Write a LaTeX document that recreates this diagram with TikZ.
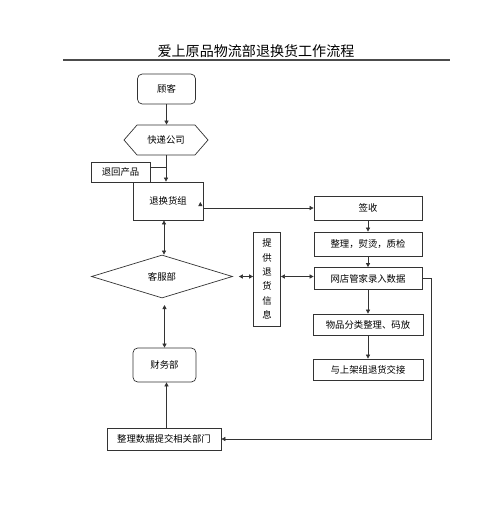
\documentclass[tikz,border=0pt]{standalone}
\usepackage{fontspec}
\newfontfamily\cjk{Noto Sans CJK SC}
\usetikzlibrary{positioning, shapes.geometric, shapes.symbols, arrows.meta}

\begin{document}
\begin{tikzpicture}[
    x=0.03cm, y=-0.03cm,
    on grid,
    font=\cjk\fontsize{8}{10}\selectfont,
    every node/.style={inner sep=1pt},
    box/.style={draw=black!80, line width=0.6pt, minimum width=3.24cm, minimum height=0.72cm},
    rbox/.style={box, rounded corners=4pt},
    arr/.style={draw=black!80, line width=0.6pt, -{Triangle[length=3.5pt, width=3.5pt]}},
    darr/.style={draw=black!80, line width=0.6pt, {Triangle[length=3.5pt, width=3.5pt]}-{Triangle[length=3.5pt, width=3.5pt]}}
]
   \useasboundingbox (0,0) rectangle (500,530);

   % Title
   \node (title) at (256,51) {\fontsize{12}{14}\selectfont 爱上原品物流部退换货工作流程};
   \coordinate (ruleL) at (63,60);
   \coordinate (ruleR) at (450,60);
   \draw[black!70, line width=1pt] (ruleL) -- (ruleR);

   % Left column
   \node[rbox, minimum width=1.74cm, minimum height=0.9cm] (gk) at (166.5,89) {顾客};
   \node[draw=black!80, line width=0.6pt, shape=signal, signal to=east and west, signal pointer angle=98,
         minimum width=2.52cm, minimum height=0.9cm, inner sep=0pt] (kd) at (166,140) {快递公司};
   \node[box, minimum width=1.77cm, minimum height=0.6cm] (th) at (120.5,172) {退回产品};
   \node[box, minimum width=2.1cm, minimum height=1.14cm] (thz) at (168,201) {退换货组};
   \node[draw=black!80, line width=0.6pt, diamond, aspect=3.3, minimum width=4.23cm, minimum height=1.29cm,
         inner sep=0pt] (kf) at (162,276.5) {客服部};
   \node[rbox, minimum width=1.89cm, minimum height=1.02cm] (cw) at (164.5,365) {财务部};
   \node[box, minimum width=3.42cm, minimum height=0.66cm] (zl) at (164,439) {整理数据提交相关部门};

   % Info box
   \node[box, minimum width=0.81cm, minimum height=2.82cm, align=center,
         font=\cjk\fontsize{8}{12.3}\selectfont] (info) at (267,279) {提\\供\\退\\货\\信\\息};

   % Right column
   \node[box] (qs) at (368,208) {签收};
   \node[box] (zy) [below=1.08cm of qs] {整理，熨烫，质检};
   \node[box, minimum height=0.66cm] (wd) [below=1.035cm of zy] {网店管家录入数据};
   \node[box, minimum width=3.3cm, minimum height=0.63cm] (wp) [below=1.38cm of wd] {物品分类整理、码放};
   \node[box, minimum width=3.3cm, minimum height=0.63cm] (sj) [below=1.35cm of wp] {与上架组退货交接};

   % Connectors
   \draw[arr] (gk.south) -- (gk.south |- kd.north);
   \draw[arr] (kd.south) -- (kd.south |- thz.north);
   \draw[draw=black!80, line width=0.6pt] ([yshift=0.15cm]th.east) -- ([yshift=0.15cm]th.east -| kd.south);
   \draw[arr] (qs.west -| thz.east) -- (qs.west);
   \draw[arr] ([xshift=-0.09cm,yshift=-0.06cm]thz.east) -- ++(0,-1);
   \draw[darr] ([xshift=-0.12cm]thz.south) -- ([xshift=-0.12cm]thz.south |- kf.north);
   \draw[darr, shorten <=0.18cm] (kf.east) -- (kf.east -| info.west);
   \draw[darr] (info.east |- kf.east) -- (kf.east -| wd.west);
   \draw[darr, shorten <=0.2cm] (kf.south -| cw.north) -- (cw.north);
   \draw[arr] (zl.north -| 166.5,0) -- (cw.south -| 166.5,0);
   \draw[arr] (qs) -- (zy);
   \draw[arr] (zy) -- (wd);
   \draw[arr] (wd) -- (wp);
   \draw[arr] (wp) -- (sj);
   \draw[arr] (wd.east) -- ++(9,0) |- (zl.east);
\end{tikzpicture}
\end{document}
